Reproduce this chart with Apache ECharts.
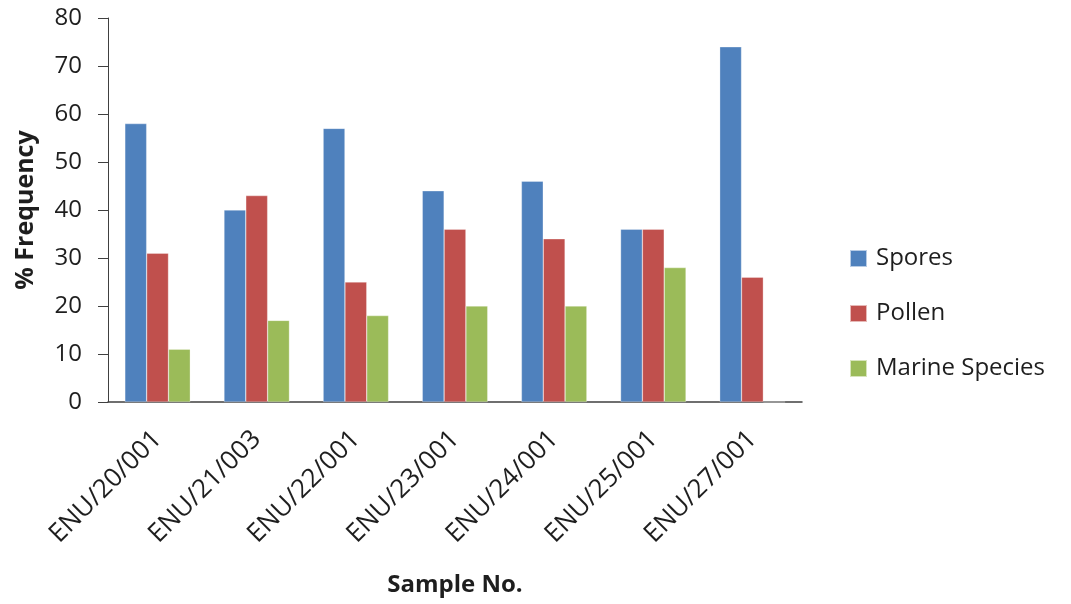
<!DOCTYPE html>
<html><head><meta charset="utf-8">
<script src="https://cdn.jsdelivr.net/npm/echarts@6/dist/echarts.min.js"></script>
<style>html,body{margin:0;padding:0;background:#fff}#c{width:1071px;height:604px}</style>
</head><body><div id="c"></div>
<script>
const categories = ['ENU/20/001','ENU/21/003','ENU/22/001','ENU/23/001','ENU/24/001','ENU/25/001','ENU/27/001'];
const spores = [58, 40, 57, 44, 46, 36, 74];
const pollen = [31, 43, 25, 36, 34, 36, 26];
const marine = [11, 17, 18, 20, 20, 28, 0];
const yTicks = {min: 0, max: 80, interval: 10};
const FONT = '"Open Sans", sans-serif';
const chart = echarts.init(document.getElementById('c'));
const mk = (name, data, color) => ({
  name, type: 'bar', data, barGap: '0%', barCategoryGap: '34%',
  itemStyle: {color, borderColor: 'rgba(255,255,255,0.6)', borderWidth: 0.5},
  animation: false
});
chart.setOption({
  animation: false,
  textStyle: {fontFamily: FONT},
  grid: {left: 108, right: 269, top: 18, bottom: 202, containLabel: false},
  legend: {
    orient: 'vertical', left: 844, top: 241,
    itemWidth: 17, itemHeight: 17, itemGap: 30,
    icon: 'rect',
    textStyle: {fontFamily: FONT, fontSize: 24, lineHeight: 25, color: '#1e1e1e', padding: [0,0,0,4]},
    data: ['Spores','Pollen','Marine Species']
  },
  xAxis: {
    type: 'category', data: categories,
    name: 'Sample No.', nameLocation: 'middle', nameGap: 171,
    nameTextStyle: {fontFamily: FONT, fontSize: 24, fontWeight: 'bold', color: '#1e1e1e'},
    axisLine: {lineStyle: {color: '#404040', width: 1.5}},
    axisTick: {show: false},
    axisLabel: {rotate: 45, fontFamily: FONT, fontSize: 26, color: '#1e1e1e', margin: 33, interval: 0}
  },
  yAxis: {
    type: 'value', min: yTicks.min, max: yTicks.max, interval: yTicks.interval,
    name: '% Frequency', nameLocation: 'middle', nameGap: 70, nameRotate: 90,
    nameTextStyle: {fontFamily: FONT, fontSize: 25, fontWeight: 'bold', color: '#1e1e1e'},
    axisLine: {show: true, lineStyle: {color: '#404040', width: 1}},
    axisTick: {show: true, length: 10, lineStyle: {color: '#404040'}},
    axisLabel: {fontFamily: FONT, fontSize: 24, color: '#1e1e1e', margin: 26},
    splitLine: {show: false}
  },
  series: [
    mk('Spores', spores, '#4F81BD'),
    mk('Pollen', pollen, '#C0504D'),
    mk('Marine Species', marine, '#9BBB59')
  ]
});
</script></body></html>
